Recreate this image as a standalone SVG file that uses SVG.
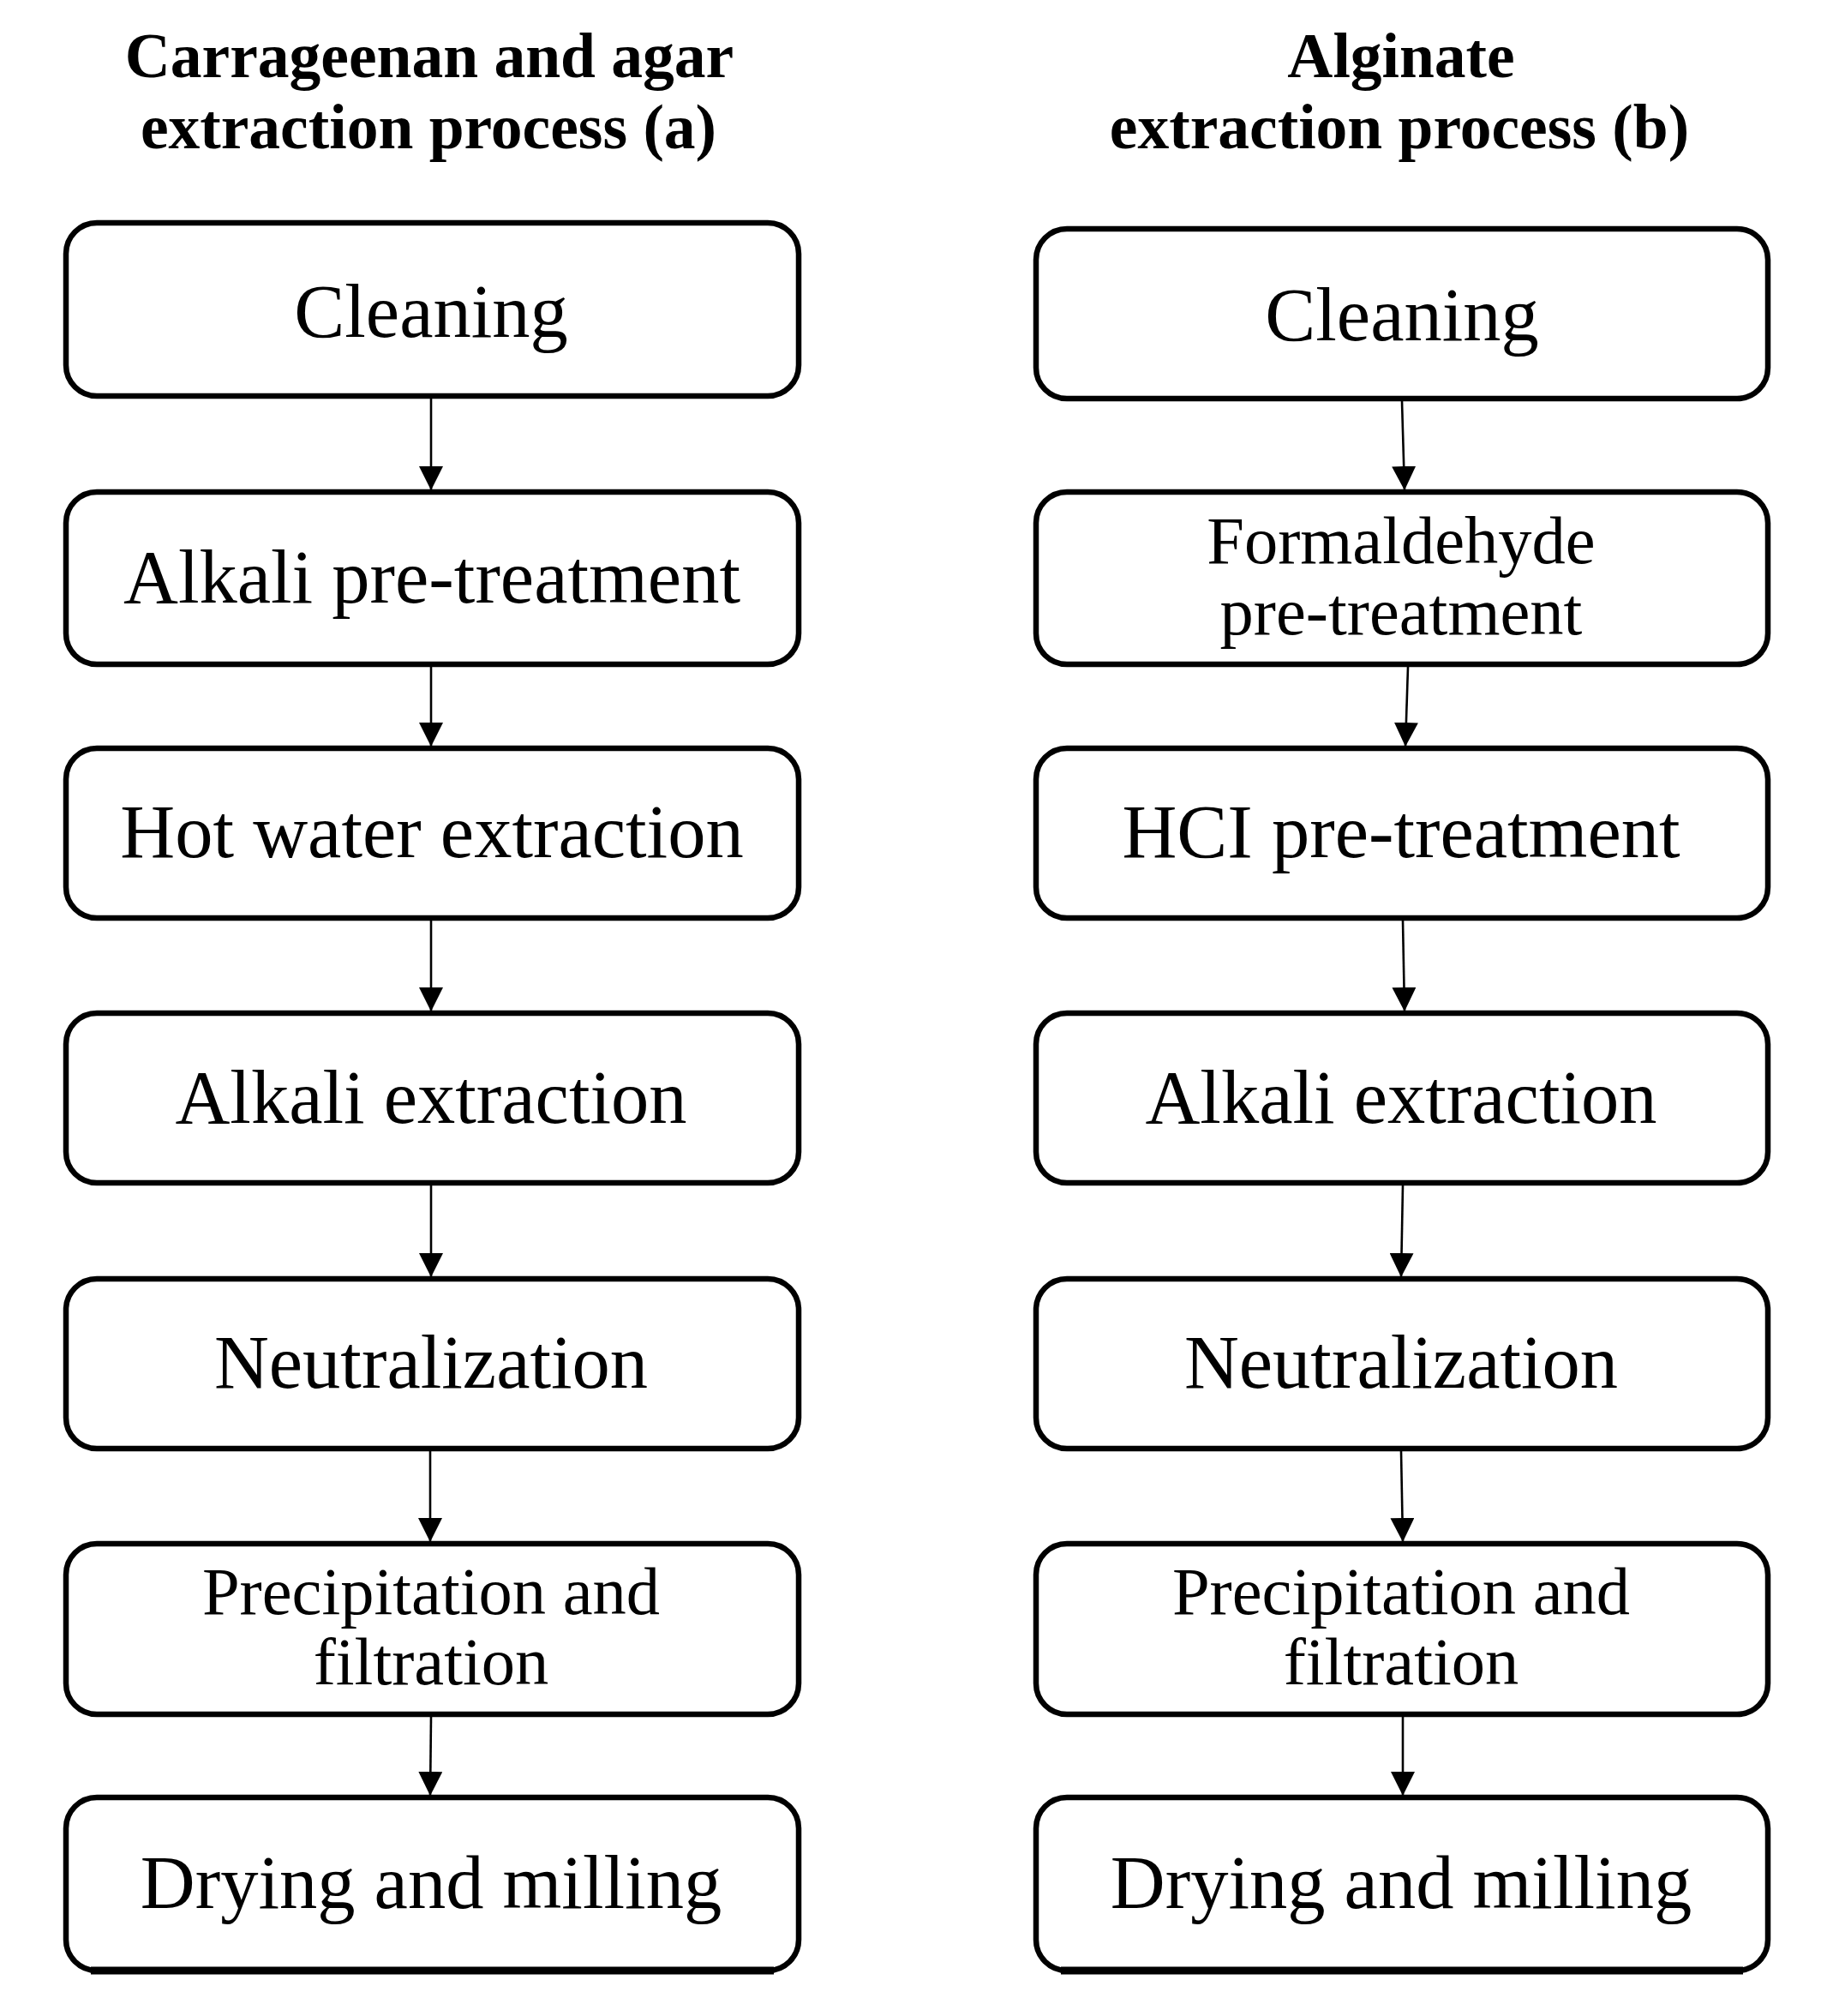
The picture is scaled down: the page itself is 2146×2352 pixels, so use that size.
<svg xmlns="http://www.w3.org/2000/svg" width="2146" height="2352" viewBox="0 0 2146 2352">
<style>
.box{fill:#fff;stroke:#000;stroke-width:6.5}
.cut{stroke:#000;stroke-width:9;fill:none}
.lbl{font-family:"Liberation Serif","Times New Roman",serif;font-size:88.5px;fill:#000;text-anchor:middle}
.lbl2{font-family:"Liberation Serif","Times New Roman",serif;font-size:78.5px;fill:#000;text-anchor:middle}
.ttl{font-family:"Liberation Serif","Times New Roman",serif;font-size:73.5px;font-weight:bold;fill:#000;text-anchor:middle}
.arr{stroke:#000;stroke-width:2.6;fill:none;marker-end:url(#ah)}
</style>
<defs>
<marker id="ah" markerUnits="userSpaceOnUse" viewBox="0 0 28 28" refX="28" refY="14" markerWidth="28" markerHeight="28" orient="auto">
<path d="M0,0 L28,14 L0,28 Z" fill="#000"/>
</marker>
</defs>
<rect width="2146" height="2352" fill="#fff"/>
<g id="titles">
<text class="ttl" x="501" y="90">Carrageenan and agar</text>
<text class="ttl" x="500" y="173">extraction process (a)</text>
<text class="ttl" x="1635" y="90">Alginate</text>
<text class="ttl" x="1633" y="173">extraction process (b)</text>
</g>
<g id="connectors">
<line class="arr" x1="503" y1="465" x2="503" y2="572"/>
<line class="arr" x1="503" y1="778" x2="503" y2="871"/>
<line class="arr" x1="503" y1="1074" x2="503" y2="1180"/>
<line class="arr" x1="503" y1="1383" x2="503" y2="1490"/>
<line class="arr" x1="502" y1="1693" x2="502" y2="1799"/>
<line class="arr" x1="503" y1="2003" x2="502" y2="2095"/>
<line class="arr" x1="1636" y1="468" x2="1639" y2="572"/>
<line class="arr" x1="1643" y1="778" x2="1640" y2="871"/>
<line class="arr" x1="1637" y1="1074" x2="1639" y2="1180"/>
<line class="arr" x1="1637" y1="1383" x2="1635" y2="1490"/>
<line class="arr" x1="1635" y1="1693" x2="1637" y2="1799"/>
<line class="arr" x1="1637" y1="2003" x2="1637" y2="2095"/>
</g>
<g id="a1"><rect class="box" x="77" y="260" width="855" height="202" rx="36"/><text class="lbl" x="503" y="393">Cleaning</text></g>
<g id="a2"><rect class="box" x="77" y="574" width="855" height="201" rx="36"/><text class="lbl" x="504" y="703">Alkali pre-treatment</text></g>
<g id="a3"><rect class="box" x="77" y="873" width="855" height="198" rx="36"/><text class="lbl" x="504" y="1000">Hot water extraction</text></g>
<g id="a4"><rect class="box" x="77" y="1182" width="855" height="198" rx="36"/><text class="lbl" x="503" y="1310">Alkali extraction</text></g>
<g id="a5"><rect class="box" x="77" y="1492" width="855" height="198" rx="36"/><text class="lbl" x="503" y="1619">Neutralization</text></g>
<g id="a6"><rect class="box" x="77" y="1801" width="855" height="199" rx="36"/><text class="lbl2" x="503" y="1883">Precipitation and</text><text class="lbl2" x="503" y="1965">filtration</text></g>
<g id="a7"><rect class="box" x="77" y="2097" width="855" height="202" rx="36"/><line class="cut" x1="106" y1="2299" x2="903" y2="2299"/><text class="lbl" x="503" y="2226">Drying and milling</text></g>
<g id="b1"><rect class="box" x="1209" y="267" width="854" height="198" rx="36"/><text class="lbl" x="1636" y="397">Cleaning</text></g>
<g id="b2"><rect class="box" x="1209" y="574" width="854" height="201" rx="36"/><text class="lbl2" x="1635" y="657">Formaldehyde</text><text class="lbl2" x="1635" y="740">pre-treatment</text></g>
<g id="b3"><rect class="box" x="1209" y="873" width="854" height="198" rx="36"/><text class="lbl" x="1635" y="1000">HCI pre-treatment</text></g>
<g id="b4"><rect class="box" x="1209" y="1182" width="854" height="198" rx="36"/><text class="lbl" x="1635" y="1310">Alkali extraction</text></g>
<g id="b5"><rect class="box" x="1209" y="1492" width="854" height="198" rx="36"/><text class="lbl" x="1635" y="1619">Neutralization</text></g>
<g id="b6"><rect class="box" x="1209" y="1801" width="854" height="199" rx="36"/><text class="lbl2" x="1635" y="1883">Precipitation and</text><text class="lbl2" x="1635" y="1965">filtration</text></g>
<g id="b7"><rect class="box" x="1209" y="2097" width="854" height="202" rx="36"/><line class="cut" x1="1238" y1="2299" x2="2034" y2="2299"/><text class="lbl" x="1635" y="2226">Drying and milling</text></g>
</svg>
